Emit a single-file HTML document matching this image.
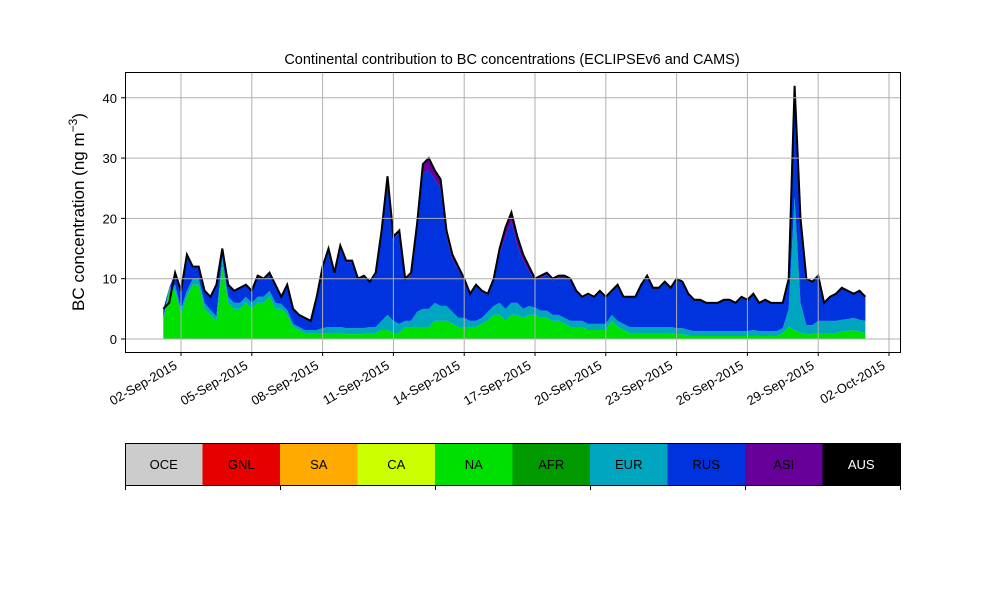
<!DOCTYPE html>
<html><head><meta charset="utf-8">
<style>
body{margin:0;background:#fff;}
svg text{font-family:"Liberation Sans",sans-serif;}
</style></head>
<body>
<svg id="chart" width="1000" height="600" xmlns="http://www.w3.org/2000/svg">
<rect width="1000" height="600" fill="#fff"/>
<g id="areas"></g>
<g id="grid"></g>
<rect x="125.5" y="72.5" width="775" height="280" fill="none" stroke="#000" stroke-width="1"/>
<g id="axes"></g>
<text x="512" y="64" text-anchor="middle" font-size="14.5">Continental contribution to BC concentrations (ECLIPSEv6 and CAMS)</text>
<text transform="translate(84,212) rotate(-90)" text-anchor="middle" font-size="17">BC concentration (ng m<tspan baseline-shift="super" font-size="12">−3</tspan>)</text>
<g id="legend"></g>
</svg>
<script>
const total=[5,6,11,8,14,12,12,8,7,9,15,9,8,8.5,9,8,10.5,10,11,9,7,9,5,4,3.5,3,7,12,15,11,15.5,13,13,10,10.5,9.5,11,18,27,17,18,10,11,19,29,30,28,26.5,18,14,12,10,7.5,9,8,7.5,10,15,18.5,21,17,14,12,10,10.5,11,10,10.5,10.5,10,8,7,7.5,7,8,7,8,9,7,7,7,9,10.5,8.5,8.5,9.5,8.5,10,9.5,7.5,6.5,6.5,6,6,6,6.5,6.5,6,7,6.5,7.5,6,6.5,6,6,6,10,42,20,10,9.5,10.5,6,7,7.5,8.5,8,7.5,8,7];
const na=[3,8,8,4,7,9,9,5,4,3,12,6,5,5,6,5,6,6,7,5,5,4,2,1.5,1,1,1,1,1,1,1,0.8,0.8,0.8,0.8,1,1,1.5,1.5,1,1,2,2,2,2,2,3,3,3,2.5,2,2,2,2,2.5,3,4,4,3,4,4,3.5,4,4,3.5,3.5,3,3,2.5,2,2,2,1.5,1.5,1.5,1.5,3,2,1.5,1,1,1,1,1,1,1,1,0.8,0.8,0.5,0.5,0.5,0.5,0.5,0.5,0.5,0.5,0.5,0.5,0.5,0.5,0.5,0.5,0.5,0.5,1,2,1.5,1,0.8,0.8,1,1,1,1,1.2,1.3,1.5,1.2,1];
const eur=[0.5,0.5,1,1,1,1,1,1,0.8,0.8,1.5,1,1,1,1,1,1,1,1,1,0.8,0.8,0.5,0.5,0.5,0.5,0.5,0.8,1,1,1,1,1,1,1,1,1,1.5,2.5,2,1.5,1,1,2.5,3,3,3,2.5,2.5,2,1.5,1.5,1,1,1,1.5,1.5,2,2,2,2,1.5,1.5,1.2,1.2,1.2,1,1,1,1,1,1,1,1,1,1,1,1,1,1,1,1,1,1,1,1,1,1,1,1,0.8,0.8,0.8,0.8,0.8,0.8,0.8,0.8,0.8,0.8,1,0.8,0.8,0.8,0.8,0.8,3,22,5,1.5,1.5,2,2,2,2,2,2,2,2,2];
const asi=[0.1,0.1,0.2,0.1,0.2,0.2,0.2,0.1,0.1,0.1,0.2,0.1,0.1,0.1,0.1,0.1,0.2,0.2,0.2,0.1,0.1,0.1,0.1,0.1,0.1,0.1,0.2,0.2,0.3,0.2,0.3,0.3,0.3,0.2,0.2,0.2,0.3,0.4,0.5,0.4,0.4,0.3,0.3,0.8,1.5,2,1.5,1.5,1,0.8,0.5,0.3,0.2,0.2,0.2,0.2,0.3,0.8,1.5,1.5,1.5,1,0.8,0.3,0.3,0.3,0.3,0.3,0.3,0.2,0.2,0.2,0.2,0.2,0.2,0.2,0.2,0.2,0.2,0.2,0.2,0.2,0.2,0.2,0.2,0.2,0.2,0.2,0.2,0.2,0.1,0.1,0.1,0.1,0.1,0.1,0.1,0.1,0.1,0.1,0.1,0.1,0.1,0.1,0.1,0.1,0.2,0.5,0.3,0.2,0.2,0.2,0.1,0.1,0.1,0.1,0.1,0.1,0.1,0.1];
const yTicks=[0,10,20,30,40];
const xTickLabels=["02-Sep-2015","05-Sep-2015","08-Sep-2015","11-Sep-2015","14-Sep-2015","17-Sep-2015","20-Sep-2015","23-Sep-2015","26-Sep-2015","29-Sep-2015","02-Oct-2015"];
const xTickDays=[1,4,7,10,13,16,19,22,25,28,31];
const regions=["OCE","GNL","SA","CA","NA","AFR","EUR","RUS","ASI","AUS"];
const regionColors=["#cccccc","#e60000","#ffaa00","#ccff00","#00e000","#009900","#00a5c0","#0033dd","#660099","#000000"];
const startDay=0.25, stepDay=0.25;

const NS="http://www.w3.org/2000/svg";
const X=d=>181+(d-1)*23.6;
const Y=v=>339-v*6.03;
const tx=i=>X(startDay+i*stepDay);
function mk(tag,attrs,parent){const e=document.createElementNS(NS,tag);for(const k in attrs)e.setAttribute(k,attrs[k]);parent.appendChild(e);return e;}
const areas=document.getElementById('areas');
const b0=total.map(()=>0);
const b1=na.map((v,i)=>v);
const b2=b1.map((v,i)=>v+eur[i]);
const b3=total.map((v,i)=>Math.max(b2[i],v-asi[i]));
const b4=total.map((v,i)=>Math.max(b3[i],v));
function band(lo,hi,color,name){
  let d="M"+tx(0)+","+Y(hi[0]);
  for(let i=1;i<hi.length;i++)d+="L"+tx(i)+","+Y(hi[i]);
  for(let i=lo.length-1;i>=0;i--)d+="L"+tx(i)+","+Y(lo[i]);
  const p=mk('path',{d:d+"Z",fill:color},areas);
  
  
}
band(b0,b1,"#00e000","area-na");
band(b1,b2,"#00a5c0","area-eur");
band(b2,b3,"#0033dd","area-rus");
band(b3,b4,"#660099","area-asi");
let ld="M"+tx(0)+","+Y(total[0]);
for(let i=1;i<total.length;i++)ld+="L"+tx(i)+","+Y(total[i]);
const tl=mk('path',{d:ld,fill:"none",stroke:"#000","stroke-width":2},areas);



const grid=document.getElementById('grid'), axes=document.getElementById('axes');
yTicks.forEach(v=>{
  const y=Y(v);
  const g=mk('line',{x1:125,x2:900,y1:y,y2:y,stroke:"#b0b0b0","stroke-width":1},grid);
  
  
  mk('line',{x1:121,x2:125,y1:y,y2:y,stroke:"#000"},axes);
  const t=mk('text',{x:117,y:y+5,"text-anchor":"end","font-size":13},axes);
  t.textContent=v;
  
  
});
xTickDays.forEach((d,i)=>{
  const x=X(d);
  const g=mk('line',{x1:x,x2:x,y1:72,y2:352,stroke:"#b0b0b0","stroke-width":1},grid);
  
  
  mk('line',{x1:x,x2:x,y1:352,y2:356,stroke:"#000"},axes);
  const t=mk('text',{transform:`translate(${x-3},${368}) rotate(-30)`,"text-anchor":"end","font-size":13},axes);
  t.textContent=xTickLabels[i];
  
  
});

const leg=document.getElementById('legend');
const w=77.5;
regions.forEach((r,i)=>{
  const x=125+i*w;
  const rc=mk('rect',{x:x,y:443,width:w+0.5,height:42,fill:regionColors[i]},leg);
  
  
  const t=mk('text',{x:x+w/2,y:469,"text-anchor":"middle","font-size":13,fill:r==="AUS"?"#fff":"#000"},leg);
  t.textContent=r;
  
  
});
mk('rect',{x:125.5,y:443.5,width:775,height:42,fill:"none",stroke:"#000","stroke-width":1},leg);
[0,2,4,6,8,10].forEach(k=>{const x=125.5+k*w;mk('line',{x1:x,x2:x,y1:485,y2:490,stroke:"#000"},leg);});
</script>
</body></html>
